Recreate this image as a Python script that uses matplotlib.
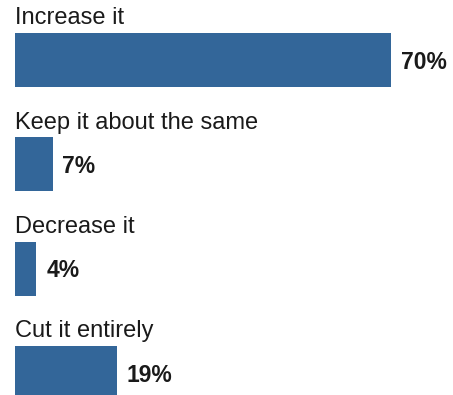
import matplotlib
matplotlib.use("Agg")
import matplotlib.pyplot as plt

# answers and shares (%)
answers = ["Increase it", "Keep it about the same", "Decrease it", "Cut it entirely"]
shares = [70, 7, 4, 19]
value_labels = ["70%", "7%", "4%", "19%"]

bar_color = "#336699"
text_color = "#1a1a1a"
plt.rcParams["font.family"] = ["Liberation Sans", "DejaVu Sans"]

W, H = 453, 395
fig = plt.figure(figsize=(W / 100, H / 100), dpi=100)
# axes starts at the left edge of the bars and fills the rest
ax = fig.add_axes([15 / W, 0, 1 - 15 / W, 1])

px_per_unit = 376 / 70.0
pitch = 104.33
first_center = 60.0
bar_h = 54 / pitch

pos = list(range(len(answers)))
ax.barh(pos, shares, height=bar_h, color=bar_color, left=0)

ax.set_xlim(0, (W - 15) / px_per_unit)
ax.set_ylim((H - first_center) / pitch, -first_center / pitch)

for i, (name, v, lab) in enumerate(zip(answers, shares, value_labels)):
    ax.annotate(name, xy=(0, i - bar_h / 2), xytext=(0, 6.3), textcoords="offset points",
                ha="left", va="baseline", fontsize=17, color=text_color)
    ax.annotate(lab, xy=(v, i), xytext=(7.0, -1.5), textcoords="offset points",
                ha="left", va="center", fontsize=16.5, fontweight="bold", color=text_color)

ax.axis("off")
fig.savefig("out.png", dpi=100)
